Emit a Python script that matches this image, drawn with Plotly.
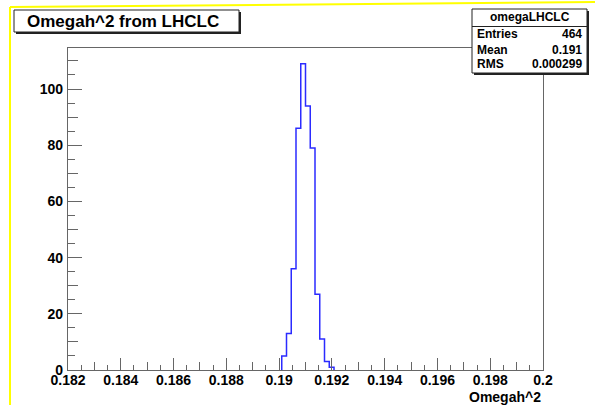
import plotly.graph_objects as go

# ---------------- data ----------------
hist_title = "Omegah^2 from LHCLC"
hist_name = "omegaLHCLC"
x_title = "Omegah^2"
n_bins = 100
x_min = 0.182
x_max = 0.2
first_filled_bin = 45          # index of first non-empty bin
counts = [5, 13, 36, 86, 109, 94, 79, 27, 11, 3, 1]
stats_labels = ["Entries", "Mean", "RMS"]
stats_values = ["464", "0.191", "0.000299"]
y_max = 114.6
x_tick_values = [0.182, 0.184, 0.186, 0.188, 0.19, 0.192, 0.194, 0.196, 0.198, 0.2]
x_tick_labels = ["0.182", "0.184", "0.186", "0.188", "0.19", "0.192", "0.194", "0.196", "0.198", "0.2"]
y_tick_values = [0, 20, 40, 60, 80, 100]
y_tick_labels = ["0", "20", "40", "60", "80", "100"]

# ---------------- histogram outline ----------------
bw = (x_max - x_min) / n_bins
edges = [x_min + bw * (first_filled_bin + i) for i in range(len(counts) + 1)]
xs = [edges[0]] + edges[:-1] + [edges[-1]]
ys = [0] + counts + [0]

# ---------------- geometry (pixels) ----------------
FIG_W, FIG_H = 595, 405
L, R, T, B = 68, 543, 48, 370
PW, PH = R - L, B - T


def px(x):
    return (x - L) / PW


def py(y):
    return (B - y) / PH


FONT = "Liberation Sans"
AXC = "#666666"

fig = go.Figure()
fig.add_trace(go.Scatter(
    x=xs, y=ys, mode="lines", line=dict(color="#2b2bff", width=1.5, shape="hv"),
    hoverinfo="skip", showlegend=False))
# dummy trace so the overlay axes (medium ticks) are drawn
fig.add_trace(go.Scatter(x=[], y=[], xaxis="x2", yaxis="y2", showlegend=False))

shapes = []
# yellow frame lines (pad border)
shapes.append(dict(type="line", xref="paper", yref="paper", x0=px(10), y0=py(7), x1=px(595), y1=py(2),
                   line=dict(color="#ffff00", width=2)))
shapes.append(dict(type="line", xref="paper", yref="paper", x0=px(10), y0=py(7), x1=px(10), y1=py(405),
                   line=dict(color="#ffff00", width=2)))

# title box with shadow
shapes.append(dict(type="rect", xref="paper", yref="paper", x0=px(16), y0=py(12), x1=px(241), y1=py(34),
                   line=dict(width=0), fillcolor="#222222", layer="above"))
shapes.append(dict(type="rect", xref="paper", yref="paper", x0=px(14), y0=py(10), x1=px(239), y1=py(32),
                   line=dict(color="#222222", width=1), fillcolor="white", layer="above"))

# stats box with shadow
shapes.append(dict(type="rect", xref="paper", yref="paper", x0=px(474), y0=py(11), x1=px(589), y1=py(75),
                   line=dict(width=0), fillcolor="#222222", layer="above"))
shapes.append(dict(type="rect", xref="paper", yref="paper", x0=px(472), y0=py(9), x1=px(587), y1=py(73),
                   line=dict(color="#222222", width=1), fillcolor="white", layer="above"))
shapes.append(dict(type="line", xref="paper", yref="paper", x0=px(472), y0=py(26.5), x1=px(587), y1=py(26.5),
                   line=dict(color="#222222", width=1), layer="above"))

annotations = []
annotations.append(dict(text=hist_title, xref="paper", yref="paper", x=px(25), y=py(21.5),
                        xanchor="left", yanchor="middle", showarrow=False,
                        font=dict(family=FONT, size=17, color="black", weight="bold")))
annotations.append(dict(text=hist_name, xref="paper", yref="paper", x=px(529.5), y=py(17.5),
                        xanchor="center", yanchor="middle", showarrow=False,
                        font=dict(family=FONT, size=12, color="black", weight="bold")))
row_y = [33.5, 49.5, 64.5]
for lab, val, ry in zip(stats_labels, stats_values, row_y):
    annotations.append(dict(text=lab, xref="paper", yref="paper", x=px(475), y=py(ry),
                            xanchor="left", yanchor="middle", showarrow=False,
                            font=dict(family=FONT, size=12, color="black", weight="bold")))
    annotations.append(dict(text=val, xref="paper", yref="paper", x=px(584), y=py(ry),
                            xanchor="right", yanchor="middle", showarrow=False,
                            font=dict(family=FONT, size=12, color="black", weight="bold")))
annotations.append(dict(text=x_title, xref="paper", yref="paper", x=1.0, y=py(397),
                        xanchor="right", yanchor="middle", showarrow=False,
                        font=dict(family=FONT, size=14, color="black", weight="bold")))

fig.update_layout(
    width=FIG_W, height=FIG_H,
    margin=dict(l=L, r=FIG_W - R, t=T, b=FIG_H - B, pad=0),
    paper_bgcolor="white", plot_bgcolor="white",
    shapes=shapes, annotations=annotations,
    xaxis=dict(range=[x_min, x_max], tickmode="array", tickvals=x_tick_values, ticktext=x_tick_labels,
               ticks="inside", ticklen=12, tickcolor=AXC, tickwidth=1,
               minor=dict(dtick=0.0005, tick0=x_min, ticks="inside", ticklen=5, tickcolor=AXC, showgrid=False),
               showline=True, linecolor=AXC, linewidth=1.3, mirror=True, showgrid=False, zeroline=False,
               tickfont=dict(family=FONT, size=14, color="black", weight="bold"), ticklabelstandoff=-3),
    yaxis=dict(range=[0, y_max], tickmode="array", tickvals=y_tick_values, ticktext=y_tick_labels,
               ticks="inside", ticklen=14, tickcolor=AXC, tickwidth=1,
               minor=dict(dtick=5, tick0=0, ticks="inside", ticklen=7, tickcolor=AXC, showgrid=False),
               showline=True, linecolor=AXC, linewidth=1.3, mirror=True, showgrid=False, zeroline=False,
               tickfont=dict(family=FONT, size=14, color="black", weight="bold"), ticklabelstandoff=1),
    xaxis2=dict(range=[x_min, x_max], overlaying="x", anchor="y", side="bottom", dtick=0.001, tick0=x_min,
                ticks="inside", ticklen=8, tickcolor=AXC, showticklabels=False, showgrid=False,
                zeroline=False, showline=False),
    yaxis2=dict(range=[0, y_max], overlaying="y", anchor="x", side="left", dtick=10, tick0=0,
                ticks="inside", ticklen=10, tickcolor=AXC, showticklabels=False, showgrid=False,
                zeroline=False, showline=False),
)

fig.write_html("out.html")
